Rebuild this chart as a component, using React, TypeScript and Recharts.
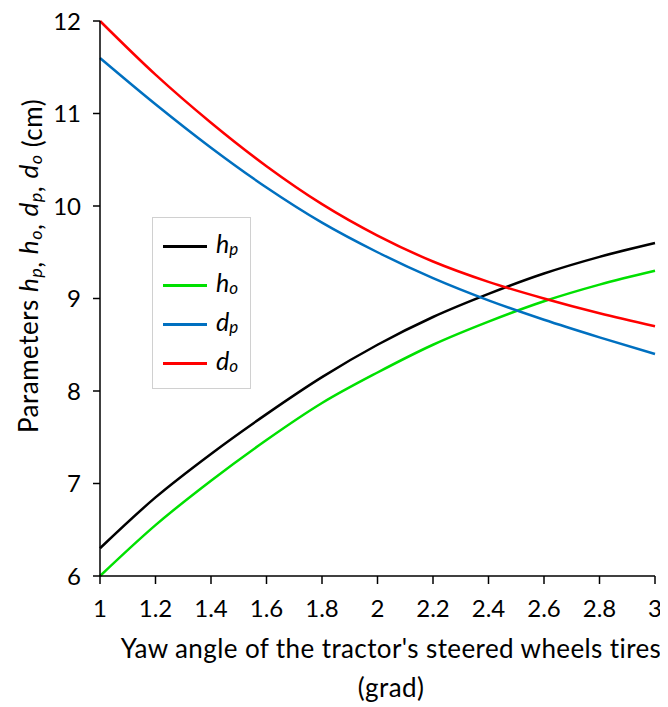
import { LineChart, Line, XAxis, YAxis, Label } from "recharts";

const angle = [1, 1.2, 1.4, 1.6, 1.8, 2, 2.2, 2.4, 2.6, 2.8, 3];
const hp = [6.3, 6.85, 7.32, 7.75, 8.15, 8.5, 8.8, 9.05, 9.27, 9.45, 9.6];
const ho = [6.0, 6.55, 7.03, 7.47, 7.87, 8.2, 8.5, 8.75, 8.97, 9.15, 9.3];
const dp = [11.6, 11.1, 10.63, 10.2, 9.82, 9.5, 9.22, 8.98, 8.77, 8.58, 8.4];
const dO = [12.0, 11.42, 10.9, 10.43, 10.02, 9.68, 9.4, 9.18, 9.0, 8.84, 8.7];

const xTicks = [1, 1.2, 1.4, 1.6, 1.8, 2, 2.2, 2.4, 2.6, 2.8, 3];
const yTicks = [6, 7, 8, 9, 10, 11, 12];

const series = [
  { key: "hp", main: "h", sub: "p", color: "#000000" },
  { key: "ho", main: "h", sub: "o", color: "#00e000" },
  { key: "dp", main: "d", sub: "p", color: "#0070c0" },
  { key: "do", main: "d", sub: "o", color: "#ff0000" },
];

const data = angle.map((a, i) => ({
  x: a,
  hp: hp[i],
  ho: ho[i],
  dp: dp[i],
  do: dO[i],
}));

const FONT = "Lato, 'Open Sans', sans-serif";

function YTitle() {
  const cx = 30;
  const cy = 258;
  const parts: any[] = [<tspan key="lead">Parameters </tspan>];
  series.forEach((s, i) => {
    const after = i < series.length - 1 ? ", " : " (cm)";
    parts.push(
      <tspan key={s.key + "m"} fontStyle="italic" dy={i === 0 ? 0 : -4}>
        {s.main}
      </tspan>,
      <tspan key={s.key + "s"} fontStyle="italic" fontSize={18} dy={4}>
        {s.sub}
      </tspan>,
      <tspan key={s.key + "a"}>{after}</tspan>
    );
  });
  return (
    <text
      x={cx}
      y={cy}
      transform={`rotate(-90, ${cx}, ${cy})`}
      textAnchor="middle"
      fontSize={26}
      letterSpacing={0.5}
      fontFamily={FONT}
      fill="#000"
    >
      {parts}
    </text>
  );
}

function XTitle() {
  return (
    <text
      textAnchor="middle"
      fontSize={26}
      fontFamily={FONT}
      letterSpacing={0.4}
      fill="#000"
    >
      <tspan x={383} y={650}>
        Yaw angle of the tractor's steered wheels tires
      </tspan>
      <tspan x={383} y={689}>
        (grad)
      </tspan>
    </text>
  );
}

function LegendBox() {
  return (
    <div
      style={{
        position: "absolute",
        left: 144,
        top: 209,
        width: 99,
        height: 172,
        border: "1px solid #d0d0d0",
        background: "#fff",
        fontFamily: FONT,
        boxSizing: "border-box",
      }}
    >
      {series.map((s, i) => (
        <div
          key={s.key}
          style={{
            position: "absolute",
            left: 10,
            top: 13 + i * 39,
            height: 30,
            display: "flex",
            alignItems: "center",
          }}
        >
          <div style={{ width: 44, height: 3, background: s.color }} />
          <span
            style={{
              marginLeft: 9,
              fontSize: 25,
              fontStyle: "italic",
              color: "#000",
              lineHeight: "30px",
            }}
          >
            {s.main}
            <span style={{ fontSize: 17, verticalAlign: "-2px" }}>{s.sub}</span>
          </span>
        </div>
      ))}
    </div>
  );
}

export default function App() {
  return (
    <div style={{ position: "relative", width: 660, height: 699 }}>
      <LineChart
        width={660}
        height={699}
        data={data}
        margin={{ top: 13, right: 13, left: 0, bottom: 0 }}
        style={{ overflow: "visible" }}
      >
        <XAxis
          dataKey="x"
          type="number"
          domain={[1, 3]}
          ticks={xTicks}
          tickFormatter={(v: number) => String(v)}
          height={131}
          tickSize={8}
          tickMargin={16}
          stroke="#000"
          strokeWidth={1.5}
          tick={{ fill: "#000", fontSize: 24, fontFamily: FONT }}
          interval={0}
        >
          <Label content={() => <XTitle />} />
        </XAxis>
        <YAxis
          type="number"
          domain={[6, 12]}
          ticks={yTicks}
          width={92}
          tickSize={7}
          tickMargin={12}
          stroke="#000"
          strokeWidth={1.5}
          tick={{ fill: "#000", fontSize: 24, fontFamily: FONT }}
          interval={0}
        >
          <Label content={() => <YTitle />} />
        </YAxis>
        {series.map((s) => (
          <Line
            key={s.key}
            dataKey={s.key}
            type="monotone"
            stroke={s.color}
            strokeWidth={2.5}
            dot={false}
            isAnimationActive={false}
          />
        ))}
      </LineChart>
      <LegendBox />
    </div>
  );
}
